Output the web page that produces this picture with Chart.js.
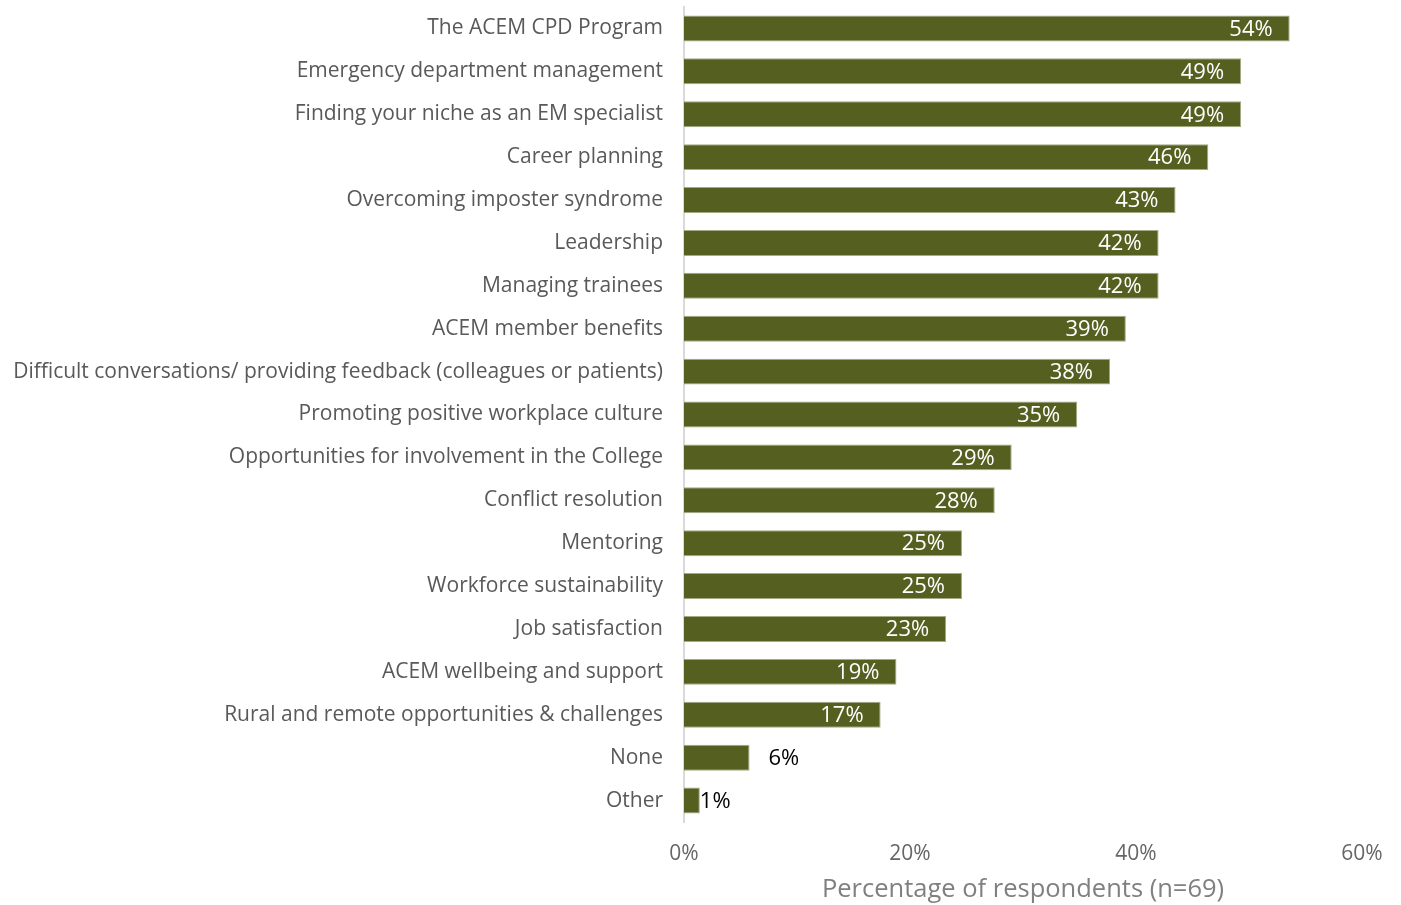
<!DOCTYPE html>
<html>
<head>
<meta charset="utf-8">
<title>Topics of interest</title>
<script src="https://cdn.jsdelivr.net/npm/chart.js@4"></script>
<style>
  body { margin: 0; background: #fff; }
  #wrap { width: 1401px; height: 905px; }
</style>
</head>
<body>
<div id="wrap"><canvas id="chartTopics" width="1401" height="905"></canvas></div>
<script>
// data (share of n=69)
const topics = [
  'The ACEM CPD Program',
  'Emergency department management',
  'Finding your niche as an EM specialist',
  'Career planning',
  'Overcoming imposter syndrome',
  'Leadership',
  'Managing trainees',
  'ACEM member benefits',
  'Difficult conversations/ providing feedback (colleagues or patients)',
  'Promoting positive workplace culture',
  'Opportunities for involvement in the College',
  'Conflict resolution',
  'Mentoring',
  'Workforce sustainability',
  'Job satisfaction',
  'ACEM wellbeing and support',
  'Rural and remote opportunities & challenges',
  'None',
  'Other'
];
const shares = [53.6, 49.3, 49.3, 46.4, 43.5, 42.0, 42.0, 39.1, 37.7, 34.8, 29.0, 27.5, 24.6, 24.6, 23.2, 18.8, 17.4, 5.8, 1.4];
const shareLabels = ['54%', '49%', '49%', '46%', '43%', '42%', '42%', '39%', '38%', '35%', '29%', '28%', '25%', '25%', '23%', '19%', '17%', '6%', '1%'];
const xTicks = [0, 20, 40, 60];

const FONT = '"Open Sans", sans-serif';

// value labels: white inside the bar end, black outside for the small ones
const barLabels = {
  id: 'barLabels',
  afterDatasetsDraw(chart) {
    const ctx = chart.ctx;
    const meta = chart.getDatasetMeta(0);
    ctx.save();
    ctx.font = '22px ' + FONT;
    ctx.textBaseline = 'middle';
    meta.data.forEach((bar, i) => {
      const txt = shareLabels[i];
      if (shares[i] < 10) {
        ctx.fillStyle = '#000';
        ctx.textAlign = 'left';
        ctx.fillText(txt, bar.x + (shares[i] < 3 ? 0 : 19), bar.y + 1);
      } else {
        ctx.fillStyle = '#fff';
        ctx.textAlign = 'right';
        ctx.fillText(txt, bar.x - 17, bar.y + 1);
      }
    });
    ctx.restore();
  }
};

new Chart(document.getElementById('chartTopics'), {
  type: 'bar',
  data: {
    labels: topics,
    datasets: [{
      data: shares,
      backgroundColor: '#556020',
      borderColor: '#a3aa85',
      borderWidth: 1,
      borderSkipped: 'start',
      barPercentage: 0.605,
      categoryPercentage: 1
    }]
  },
  options: {
    indexAxis: 'y',
    responsive: false,
    animation: false,
    layout: { padding: { top: 7, right: 39, left: 0, bottom: 0 } },
    plugins: { legend: { display: false }, tooltip: { enabled: false } },
    scales: {
      x: {
        min: 0,
        max: 60,
        afterBuildTicks(scale) { scale.ticks = xTicks.map(v => ({ value: v })); },
        afterFit(scale) {
          scale.height = 83;
          scale.paddingLeft = 0;
          scale.paddingRight = 0;
        },
        grid: { display: false },
        border: { display: false },
        ticks: {
          color: '#666666',
          padding: 11,
          font: { family: FONT, size: 21 },
          callback: v => v + '%'
        },
        title: {
          display: true,
          text: 'Percentage of respondents (n=69)',
          color: '#808080',
          font: { family: FONT, size: 25.5 },
          padding: { top: 1, bottom: 0 }
        }
      },
      y: {
        afterFit(scale) {
          scale.width = 684;
          scale.paddingTop = 0;
          scale.paddingBottom = 0;
        },
        grid: { display: false },
        border: { display: true, color: '#d9d9d9', width: 2 },
        ticks: {
          color: '#595959',
          padding: 13,
          font: { family: FONT, size: 21 }
        }
      }
    }
  },
  plugins: [barLabels]
});
</script>
</body>
</html>
